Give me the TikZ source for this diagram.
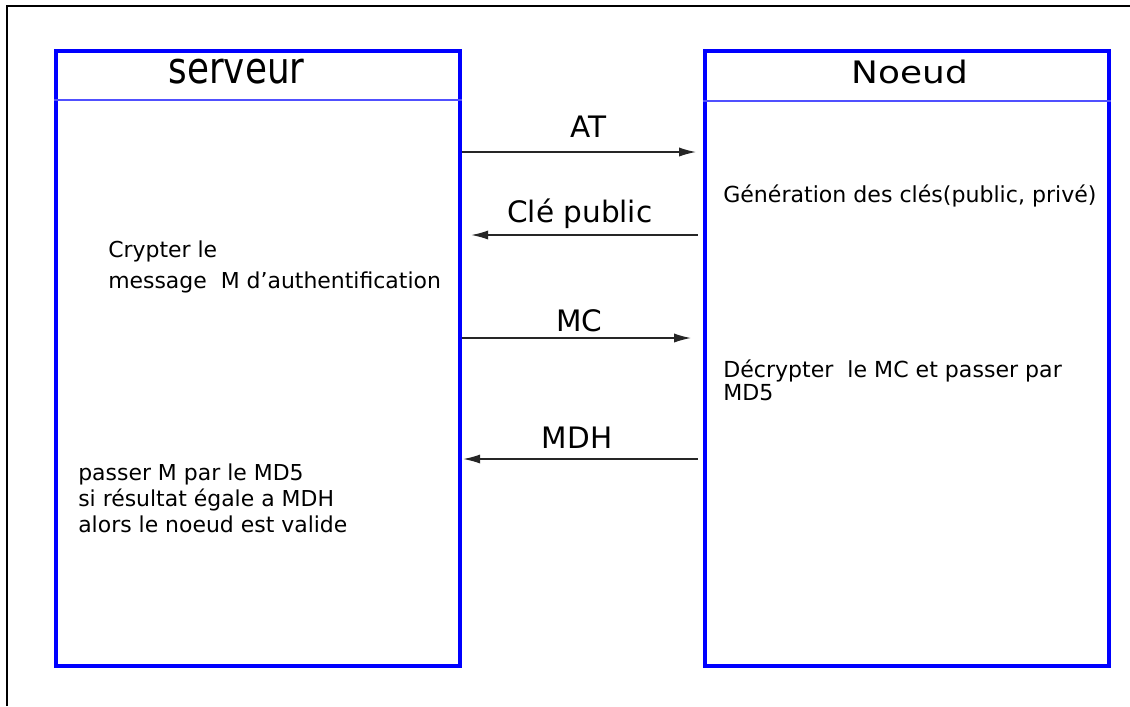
\documentclass[tikz,border=0pt]{standalone}
\usepackage{fontspec}
\setmainfont{DejaVu Sans}
\usepackage{graphicx}
\usetikzlibrary{arrows.meta}

\begin{document}
\begin{tikzpicture}[x=0.025cm,y=-0.025cm]
	\definecolor{trait}{RGB}{80,80,255}
	\tikzstyle{boite}=[minimum width=10.1cm,minimum height=15.375cm,inner sep=0pt,draw=blue,line width=2.8pt,rectangle]
	\tikzstyle{titre}=[anchor=base,inner sep=0pt]
	\tikzstyle{texte}=[anchor=base west,align=left,inner sep=0pt]
	\tikzstyle{msg}=[anchor=base,inner sep=0pt,font=\fontsize{21pt}{21pt}\selectfont]
	\tikzstyle{fleche}=[-{Latex[length=12pt,width=6.5pt]},line width=0.9pt,draw=black!85]

	\useasboundingbox (0,0) rectangle (1130,706);
	\draw[line width=1.3pt] (7,706) -- (7,5.7) -- (1130,5.7);

	\node[boite] (SV) at (258.25,358.5) {};
	\node[boite] (ND) at (907,358.5) {};
	\draw[trait,line width=1.2pt] (SV.west |- 0,100) -- (SV.east |- 0,100);
	\draw[trait,line width=1.2pt] (ND.west |- 0,101) -- (ND.east |- 0,101);

	\node[titre,font=\fontsize{31pt}{31pt}\selectfont] (TSV) at (236.5,83) {\scalebox{0.82}[1]{serveur}};
	\node[titre,font=\fontsize{22pt}{22pt}\selectfont] (TND) at (910,83) {\scalebox{1.16}[1]{Noeud}};

	% the base of a text block is its last line
	\node[texte,font=\fontsize{15.6pt}{22pt}\selectfont] (CR) at (108,288)
	{Crypter le\\message\ \ M d’authentification};
	\node[texte,font=\fontsize{15.6pt}{18.4pt}\selectfont] (PM) at (78,532)
	{passer M par le MD5\\si résultat égale a MDH\\alors le noeud est valide};
	\node[texte,font=\fontsize{15.7pt}{16.3pt}\selectfont] (GC) at (723,202)
	{Génération des clés(public, privé)};
	\node[texte,font=\fontsize{15.7pt}{16.3pt}\selectfont] (DC) at (723,400)
	{Décrypter\ \ le MC et passer par\\MD5};

	\path (SV.east |- 0,152) edge[fleche,shorten >=0.175cm] node[msg,yshift=10.6pt,xshift=4pt]{AT} (ND.west |- 0,152);
	\path (ND.west |- 0,235) edge[fleche,shorten <=0.125cm,shorten >=0.225cm] node[msg,yshift=9.2pt,xshift=-2pt]{Clé public} (SV.east |- 0,235);
	\path (SV.east |- 0,338) edge[fleche,shorten >=0.3cm] node[msg,yshift=4.3pt,xshift=-2.5pt]{MC} (ND.west |- 0,338);
	\path (ND.west |- 0,459) edge[fleche,shorten <=0.125cm,shorten >=0.025cm] node[msg,yshift=7.8pt,xshift=-4pt]{MDH} (SV.east |- 0,459);
\end{tikzpicture}
\end{document}
